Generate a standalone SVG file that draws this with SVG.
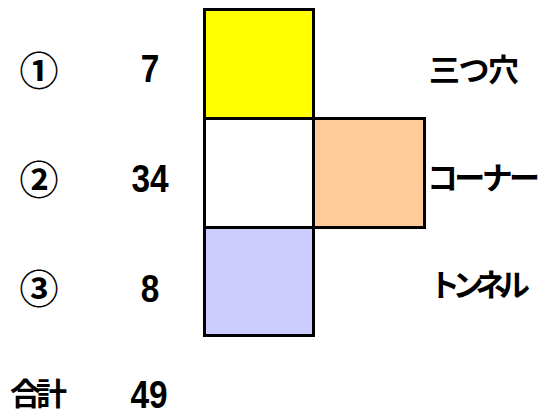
<svg xmlns="http://www.w3.org/2000/svg" width="552" height="420" viewBox="0 0 552 420">
<style>
.sq{stroke:#000;stroke-width:3}
.num{font-family:"Liberation Sans",Arial,sans-serif;font-weight:bold;font-size:38px;text-anchor:middle;fill:#000}
.circ{font-family:"Noto Sans CJK JP","DejaVu Sans",sans-serif;font-weight:bold;font-size:39px;text-anchor:middle;fill:#000}
.jp{font-family:"Noto Sans CJK JP",sans-serif;font-weight:bold;font-size:31px;fill:#000}
</style>
<rect width="552" height="420" fill="#fff"/>
<g id="net">
<rect id="top" class="sq" x="204.5" y="9.5" width="109" height="109" fill="#ffff00"/>
<rect id="middle" class="sq" x="204.5" y="118.5" width="109" height="109" fill="#ffffff"/>
<rect id="right" class="sq" x="313.5" y="118.5" width="111" height="109" fill="#ffcc99"/>
<rect id="bottom" class="sq" x="204.5" y="227.5" width="109" height="108" fill="#ccccff"/>
</g>
<g id="labels-left">
<text class="circ" x="39" y="85">①</text>
<text class="circ" x="39" y="194">②</text>
<text class="circ" x="39" y="303">③</text>
<text class="num" transform="translate(150 82) scale(0.88 1)">7</text>
<text class="num" transform="translate(150 192) scale(0.88 1)">34</text>
<text class="num" transform="translate(150 302) scale(0.88 1)">8</text>
<text class="jp" x="10" y="405" textLength="57" lengthAdjust="spacing">合計</text>
<text class="num" transform="translate(149 408) scale(0.88 1)">49</text>
</g>
<g id="labels-right">
<text class="jp" x="429" y="81" textLength="90" lengthAdjust="spacing">三つ穴</text>
<text class="jp" x="427" y="189" textLength="113" lengthAdjust="spacing">コーナー</text>
<text class="jp" x="429" y="296" textLength="101" lengthAdjust="spacing">トンネル</text>
</g>
</svg>
